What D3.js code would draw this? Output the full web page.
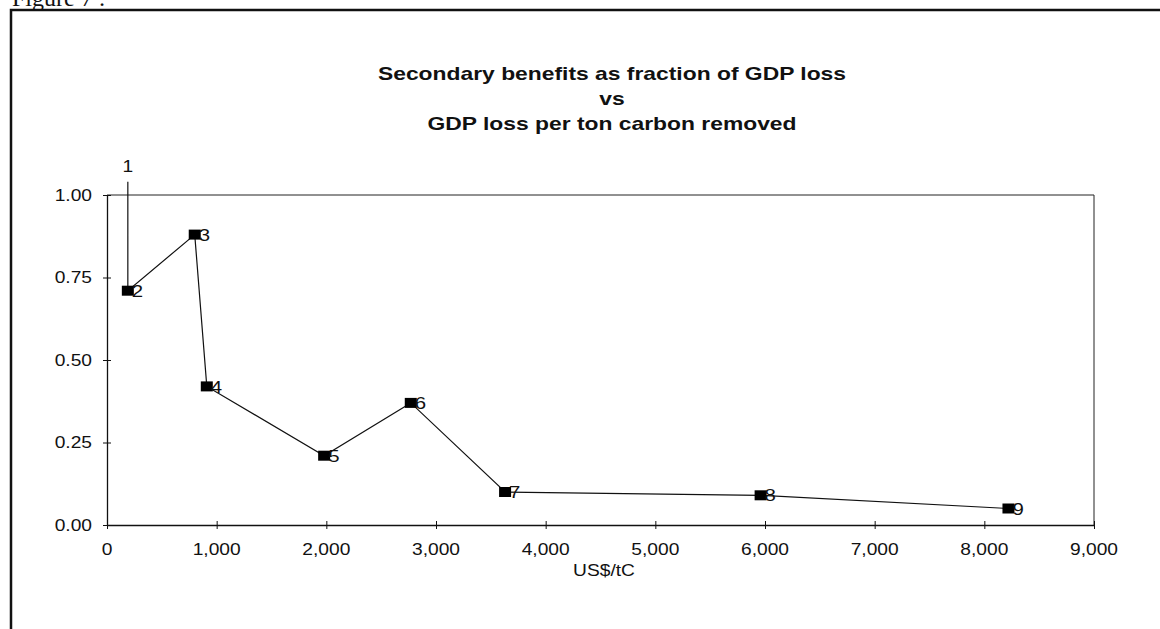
<!DOCTYPE html>
<html>
<head>
<meta charset="utf-8">
<script src="https://cdn.jsdelivr.net/npm/d3@7/dist/d3.min.js"></script>
<style>
  html, body { margin: 0; padding: 0; background: #fff; }
  svg { display: block; }
  text { font-family: "Liberation Sans", Arial, sans-serif; fill: #111; }
</style>
</head>
<body>
<svg id="chart" width="1160" height="629"></svg>
<script>
// Observations, in the order they are numbered on the chart
const pointIds = ["1", "2", "3", "4", "5", "6", "7", "8", "9"];
const costPerTon = [190, 190, 800, 910, 1980, 2770, 3630, 5960, 8220];      // US$/tC
const benefitShare = [1.04, 0.71, 0.88, 0.42, 0.21, 0.37, 0.10, 0.09, 0.05]; // fraction of GDP loss

const xTicks = [0, 1000, 2000, 3000, 4000, 5000, 6000, 7000, 8000, 9000];
const yTicks = [0, 0.25, 0.5, 0.75, 1.0];

const titleLines = [
  "Secondary benefits as fraction of GDP loss",
  "vs",
  "GDP loss per ton carbon removed"
];
const xTitle = "US$/tC";

const points = pointIds.map((id, i) => ({ id, x: costPerTon[i], y: benefitShare[i] }));

const svg = d3.select("#chart");
const SX = 1.2; // horizontal stretch of the lettering

function label(parent, x, y, str, opts = {}) {
  return parent.append("text")
    .attr("transform", `translate(${x},${y}) scale(${opts.sx || SX},1)`)
    .attr("text-anchor", opts.anchor || "start")
    .attr("font-size", opts.size || 15)
    .attr("font-weight", opts.weight || "normal")
    .attr("dy", opts.dy || 0)
    .text(str);
}

// outer frame of the figure
svg.append("path")
  .attr("d", "M11,629 V10 H1160")
  .attr("fill", "none")
  .attr("stroke", "#111")
  .attr("stroke-width", 2.5);

svg.append("text")
  .attr("x", 12).attr("y", 6)
  .attr("font-size", 24)
  .style("font-family", "'Liberation Serif', serif")
  .text("Figure 7 :");

const x = d3.scaleLinear().domain([0, 9000]).range([107, 1094]);
const y = d3.scaleLinear().domain([0, 1]).range([525, 195]);

// plot-area border (top and right)
svg.append("path")
  .attr("d", `M${x(0)},${y(1)} H${x(9000)} V${y(0)}`)
  .attr("fill", "none")
  .attr("stroke", "#222")
  .attr("stroke-width", 1);

// axes: crossing tick marks, labels drawn separately
const xAxis = svg.append("g")
  .attr("transform", `translate(0,${y(0)})`)
  .call(d3.axisBottom(x).tickValues(xTicks).tickSize(0).tickFormat(""));
xAxis.select(".domain").attr("stroke", "#111").attr("stroke-width", 1.3);
xAxis.selectAll(".tick").append("line")
  .attr("y1", -4).attr("y2", 4).attr("stroke", "#111");

const yAxis = svg.append("g")
  .attr("transform", `translate(${x(0)},0)`)
  .call(d3.axisLeft(y).tickValues(yTicks).tickSize(0).tickFormat(""));
yAxis.select(".domain").attr("stroke", "#111").attr("stroke-width", 1.3);
yAxis.selectAll(".tick").append("line")
  .attr("x1", -4).attr("x2", 4).attr("stroke", "#111");

const fmtX = d3.format(",");
xTicks.forEach(v => label(svg, x(v), 555, fmtX(v), { anchor: "middle", size: 16 }));
yTicks.forEach(v => label(svg, 92, y(v), v.toFixed(2), { anchor: "end", size: 16, dy: "0.35em" }));

label(svg, 604, 576, xTitle, { anchor: "middle", size: 16 });

titleLines.forEach((t, i) =>
  label(svg, 612, 80 + i * 25, t, { anchor: "middle", size: 18, weight: "bold", sx: 1.27 }));

// connecting line through all observations
const line = d3.line().x(d => x(d.x)).y(d => y(d.y));
svg.append("path")
  .datum(points)
  .attr("d", line)
  .attr("fill", "none")
  .attr("stroke", "#111")
  .attr("stroke-width", 1.2);

// square markers (the first observation sits off the top of the axis and has no marker)
const marked = points.slice(1);
svg.selectAll("rect.marker")
  .data(marked)
  .join("rect")
  .attr("class", "marker")
  .attr("x", d => x(d.x) - 6)
  .attr("y", d => y(d.y) - 5)
  .attr("width", 12)
  .attr("height", 10)
  .attr("fill", "#000");

// point numbers
marked.forEach(d => label(svg, x(d.x) + 4, y(d.y), d.id, { size: 17, dy: "0.36em" }));
label(svg, x(points[0].x), y(points[0].y) - 10, points[0].id, { anchor: "middle", size: 16 });
</script>
</body>
</html>
